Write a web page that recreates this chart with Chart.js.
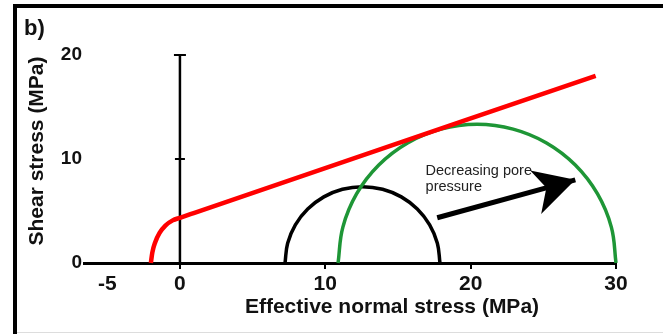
<!DOCTYPE html>
<html lang="en">
<head>
<meta charset="UTF-8">
<title>Mohr circles - decreasing pore pressure</title>
<script src="https://cdn.jsdelivr.net/npm/chart.js@4.4.1/dist/chart.umd.min.js"></script>
<style>
    body { margin: 0; background: #fff; }
    canvas { display: block; }
</style>
</head>
<body>
<canvas id="mohrChart" width="663" height="334"></canvas>
<script>
// axis ticks
const xTicks = [-5, 0, 10, 20, 30];
const yTicks = [0, 10, 20];

// failure envelope (red)
const envelopeX = [-2.0, -1.9, -1.7, -1.4, -1.0, -0.5, 0, 1, 28.6];
const envelopeY = [0, 1.0, 2.0, 2.9, 3.6, 4.1, 4.35, 4.83, 18.0];

// Mohr circle before (black)
const circleAX = [7.23, 7.41, 7.94, 8.79, 9.90, 11.18, 12.56, 13.94, 15.23, 16.33, 17.18, 17.71, 17.89];
const circleAY = [0, 1.90, 3.67, 5.19, 6.36, 7.09, 7.34, 7.09, 6.36, 5.19, 3.67, 1.90, 0];

// Mohr circle after (green)
const circleBX = [10.88, 11.21, 12.16, 13.68, 15.66, 17.96, 20.44, 22.92, 25.22, 27.20, 28.72, 29.68, 30];
const circleBY = [0, 3.45, 6.66, 9.42, 11.54, 12.87, 13.33, 12.87, 11.54, 9.42, 6.66, 3.45, 0];

// arrow + note
const arrowX = [17.7, 27.2];
const arrowY = [4.35, 8.0];
const noteLines = ['Decreasing pore', 'pressure'];
const noteX = 16.9;
const noteY = [8.8, 7.3];

// vertical axis drawn at x = 0
const axisX = [0, 0, 0];
const axisY = [0, 10, 20];

const xTitle = 'Effective normal stress (MPa)';
const yTitle = 'Shear stress (MPa)';

const FONT = '"Liberation Sans", Arial, Helvetica, sans-serif';

function pts(xs, ys) {
    return xs.map((x, i) => ({ x: x, y: ys[i] }));
}

const decor = {
    id: 'decor',
    beforeDraw(chart) {
        const c = chart.ctx;
        c.save();
        c.fillStyle = '#fff';
        c.fillRect(0, 0, chart.width, chart.height);
        // frame
        c.fillStyle = '#000';
        c.fillRect(13, 4, chart.width - 13, 4);
        c.fillRect(13, 4, 4, chart.height - 4);
        c.fillStyle = '#ddd';
        c.fillRect(17, 332, chart.width - 17, 1);
        // panel letter
        c.font = 'bold 22px ' + FONT;
        c.fillStyle = '#111';
        c.fillText('b)', 24, 35);
        // axis titles (sit off-centre in the original figure)
        c.font = 'bold 21px ' + FONT;
        c.textAlign = 'center';
        c.textBaseline = 'middle';
        c.fillText(xTitle, 392, 307);
        c.translate(37, 151);
        c.rotate(-Math.PI / 2);
        c.fillText(yTitle, 0, 0);
        c.restore();
    },
    afterDatasetsDraw(chart) {
        const xs = chart.scales.x, ys = chart.scales.y, c = chart.ctx;
        c.save();
        c.font = '14.5px ' + FONT;
        c.fillStyle = '#222';
        c.textBaseline = 'middle';
        noteLines.forEach((t, i) => {
            c.fillText(t, xs.getPixelForValue(noteX), ys.getPixelForValue(noteY[i]));
        });
        // arrow head
        const x0 = xs.getPixelForValue(arrowX[0]), y0 = ys.getPixelForValue(arrowY[0]);
        const x1 = xs.getPixelForValue(arrowX[1]), y1 = ys.getPixelForValue(arrowY[1]);
        c.translate(x1, y1);
        c.rotate(Math.atan2(y1 - y0, x1 - x0));
        c.beginPath();
        c.moveTo(0, 0);
        c.lineTo(-41, -21);
        c.lineTo(-30, 0);
        c.lineTo(-42, 24);
        c.closePath();
        c.fillStyle = '#000';
        c.fill();
        c.restore();
    }
};

new Chart(document.getElementById('mohrChart'), {
    type: 'scatter',
    data: {
        datasets: [
            {
                data: pts(envelopeX, envelopeY),
                showLine: true, borderColor: '#ff0000', borderWidth: 4.5,
                pointRadius: 0, cubicInterpolationMode: 'monotone', clip: false
            },
            {
                data: pts(circleBX, circleBY),
                showLine: true, borderColor: '#1e9636', borderWidth: 3.5,
                pointRadius: 0, tension: 0.4, clip: false
            },
            {
                data: pts(circleAX, circleAY),
                showLine: true, borderColor: '#000', borderWidth: 3.5,
                pointRadius: 0, tension: 0.4, clip: false
            },
            {
                data: pts(arrowX, arrowY),
                showLine: true, borderColor: '#000', borderWidth: 5,
                pointRadius: 0, clip: false
            },
            {
                data: pts(axisX, axisY),
                showLine: true, borderColor: '#000', borderWidth: 2.5,
                pointStyle: 'line', pointRadius: [0, 5, 6], pointBorderWidth: 2,
                pointBorderColor: '#000', clip: false
            }
        ]
    },
    options: {
        responsive: false,
        animation: false,
        devicePixelRatio: 1,
        layout: { padding: { left: 0, right: 47, top: 55, bottom: 0 } },
        plugins: { legend: { display: false }, tooltip: { enabled: false } },
        scales: {
            x: {
                type: 'linear', min: -6.6, max: 30,
                afterBuildTicks: s => { s.ticks = xTicks.map(v => ({ value: v })); },
                grid: {
                    drawOnChartArea: false, drawTicks: true, tickLength: 6, lineWidth: 2,
                    color: ctx => (ctx.tick && ctx.tick.value === -5) ? 'rgba(0,0,0,0)' : '#000'
                },
                border: { color: '#000', width: 3 },
                ticks: {
                    font: { family: FONT, size: 21, weight: 'bold' }, color: '#111',
                    padding: 3, autoSkip: false, maxRotation: 0
                },
                title: { display: false },
                afterFit: s => { s.height = 71; }
            },
            y: {
                type: 'linear', min: 0, max: 20,
                afterBuildTicks: s => { s.ticks = yTicks.map(v => ({ value: v })); },
                grid: { display: false, drawTicks: false },
                border: { display: false },
                ticks: {
                    font: { family: FONT, size: 19, weight: 'bold' }, color: '#111', padding: 2
                },
                title: { display: false },
                afterFit: s => { s.width = 84; }
            }
        }
    },
    plugins: [decor]
});
</script>
</body>
</html>
